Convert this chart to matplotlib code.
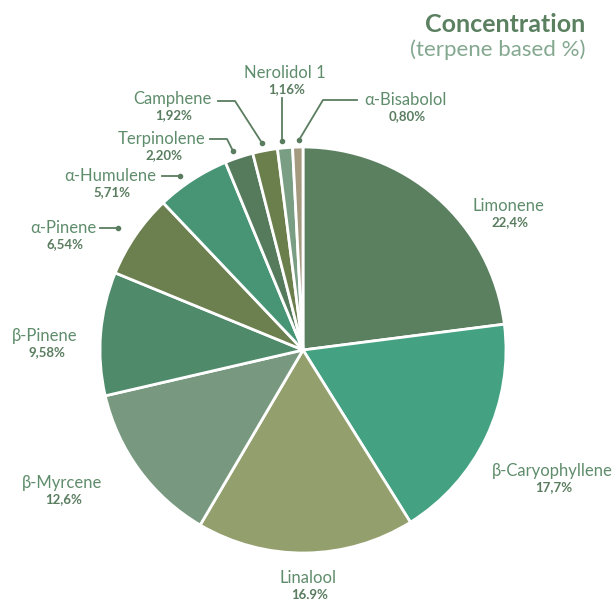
import matplotlib
matplotlib.use("Agg")
import matplotlib.pyplot as plt

names = ["Limonene", "β-Caryophyllene", "Linalool", "β-Myrcene", "β-Pinene",
         "α-Pinene", "α-Humulene", "Terpinolene", "Camphene", "Nerolidol 1", "α-Bisabolol"]
values = [22.4, 17.7, 16.9, 12.6, 9.58, 6.54, 5.71, 2.20, 1.92, 1.16, 0.80]
pct_labels = ["22,4%", "17,7%", "16,9%", "12,6%", "9,58%", "6,54%", "5,71%",
              "2,20%", "1,92%", "1,16%", "0,80%"]
colors = ["#5a8060", "#44a282", "#93a06e", "#78997f", "#4f8a6a", "#6c7f4f",
          "#489576", "#567a5c", "#6b7f4c", "#7a9e84", "#a39a80"]

W, H = 616, 599
CX, CY, R = 303, 350, 203

def P(x, y):
    return ((x - CX) / R, (CY - y) / R)

plt.rcParams['font.family'] = ['Lato', 'DejaVu Sans']
fig = plt.figure(figsize=(W / 100, H / 100), dpi=100)
ax = fig.add_axes([0, 0, 1, 1])
ax.pie(values, colors=colors, startangle=90, counterclock=False, radius=1,
       wedgeprops=dict(edgecolor="white", linewidth=2))
ax.set_aspect('auto')
ax.set_xlim(-CX / R, (W - CX) / R)
ax.set_ylim(-(H - CY) / R, CY / R)
ax.axis('off')

name_col = "#5f8d6c"
pct_col = "#5a7d60"

label_pos = [(508, 206), (552, 471), (308, 578), (62, 483), (45, 336),
             (63, 228), (110, 176), (162, 139), (172, 99), (285, 73), (405, 100)]
for n, p, (x, y) in zip(names, pct_labels, label_pos):
    ax.text(*P(x, y), n, ha='center', va='center', fontsize=12, color=name_col)
    ax.text(*P(x + 2, y + 16), p, ha='center', va='center', fontsize=9.5,
            fontweight='bold', color=pct_col)

leaders = [
    [(100, 228), (118, 228)],
    [(162, 176), (180, 176)],
    [(210, 139), (227, 139), (233, 151)],
    [(218, 101), (235, 101), (262, 143)],
    [(282, 98), (282, 141)],
    [(357, 100), (323, 100), (299, 140)],
]
for pts in leaders:
    xs, ys = zip(*[P(x, y) for x, y in pts])
    ax.plot(xs, ys, color=pct_col, lw=1.3)
    ax.plot(xs[-1], ys[-1], 'o', color=pct_col, ms=3)

fig.text(585 / W, 1 - 24 / H, "Concentration", ha='right', va='center',
         fontsize=18, fontweight='bold', color="#5a8060")
fig.text(586 / W, 1 - 50 / H, "(terpene based %)", ha='right', va='center',
         fontsize=16, fontweight='normal', color="#84a88f")

fig.savefig("out.png", dpi=100)
